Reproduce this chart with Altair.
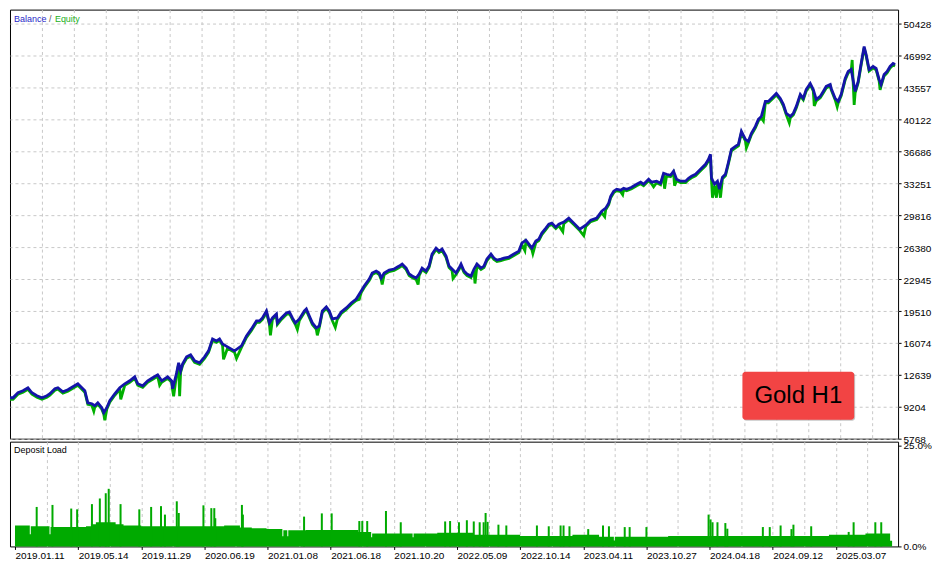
import altair as alt
import pandas as pd

# ---------------- data ----------------
# x = deal index along the MT5 report axis (32 deals per grid cell)
bal_trades = [0, 3, 8, 13, 18, 22, 27, 32, 37, 40, 45, 48, 53, 58, 63, 68, 72, 75, 78, 82,
              85, 88, 92, 94, 97, 100, 105, 110, 115, 120, 125, 128, 133, 138, 143, 148, 152, 158, 162, 163,
              167, 169, 171, 173, 177, 181, 185, 190, 195, 199, 203, 207, 210, 213, 218, 225, 232, 237, 242, 247,
              250, 253, 257, 260, 263, 267, 268, 272, 277, 280, 283, 286, 290, 295, 297, 300, 303, 307, 310, 313,
              317, 320, 323, 328, 332, 337, 342, 347, 352, 355, 360, 363, 367, 370, 372, 375, 380, 385, 390, 393,
              397, 400, 403, 407, 410, 413, 417, 420, 423, 427, 430, 433, 437, 440, 443, 447, 450, 452, 455, 458,
              462, 465, 468, 472, 475, 478, 482, 485, 488, 492, 495, 500, 505, 510, 513, 517, 520, 523, 527, 530,
              533, 537, 540, 543, 547, 550, 555, 560, 565, 571, 577, 582, 588, 593, 597, 600, 602, 605, 608, 612,
              615, 618, 623, 628, 632, 635, 640, 643, 648, 652, 655, 658, 662, 665, 668, 672, 677, 680, 683, 687,
              690, 693, 697, 700, 702, 703, 706, 709, 711, 714, 717, 720, 723, 727, 730, 733, 737, 740, 743, 747,
              750, 753, 757, 760, 765, 768, 772, 775, 778, 782, 785, 788, 792, 795, 798, 802, 805, 808, 812, 815,
              818, 822, 823, 827, 830, 833, 837, 840, 843, 847, 850, 853, 856, 858, 861, 865, 868, 871, 873, 876,
              879, 882, 885, 887]
bal_values = [10174, 10174, 10712, 10927, 11249, 10712, 10389, 10174, 10389, 10604, 11142, 11249, 10819, 11034, 11356, 11679, 11249, 10927, 9637, 9529,
              9315, 9637, 9100, 8562, 9100, 9852, 10604, 11249, 11679, 12001, 12431, 11679, 11464, 12001, 12324, 12646, 12001, 12431, 12001, 11142,
              12861, 13936, 13076, 13828, 14581, 14795, 14151, 13936, 14581, 15225, 16515, 16300, 16515, 15978, 15655, 15225, 15762, 16837, 17590, 18449,
              18449, 18772, 19524, 18235, 18772, 19202, 18235, 18772, 19309, 19417, 18772, 18235, 18664, 19524, 19739, 18987, 18235, 17697, 17912, 19524,
              19954, 19524, 18664, 18772, 19417, 19847, 20384, 20814, 21674, 22211, 22963, 23608, 23823, 23608, 23071, 23608, 23930, 24038, 24360, 24575,
              24145, 23501, 23286, 23071, 23501, 24145, 23823, 24360, 25650, 26295, 25972, 26187, 25435, 24360, 24038, 23608, 24145, 24575, 23823, 23501,
              23286, 24038, 24575, 24145, 24360, 25113, 25650, 25220, 25005, 25113, 25220, 25328, 25650, 25972, 26832, 27155, 26725, 26295, 27047, 27262,
              27907, 28444, 28874, 28982, 28552, 28874, 29089, 29519, 28982, 28337, 28767, 29304, 29519, 30271, 30594, 31131, 31883, 32421, 32636, 32528,
              32743, 32636, 32850, 33173, 33388, 33173, 33710, 33388, 33495, 33280, 34355, 34248, 34140, 34570, 33710, 33495, 33495, 33818, 34033, 34248,
              34570, 34892, 35322, 35860, 36397, 33818, 33173, 33495, 32636, 33925, 34248, 35537, 36934, 37257, 37472, 38869, 38009, 37794, 38654, 39406,
              40158, 40481, 42093, 42093, 42630, 42953, 42416, 41770, 40801, 40481, 40801, 41555, 42845, 42416, 43383, 44027, 43383, 42308, 42630, 43168,
              43705, 43920, 43490, 42416, 42093, 42845, 44565, 45317, 45532, 43168, 44242, 46177, 48004, 47144, 45532, 45854, 45640, 44457, 43920, 44995,
              45317, 45854, 46177, 46069]

# equity excursions away from balance (floating drawdowns / profits)
eq_dip_trades = [84, 95, 111, 150, 164, 170, 214, 227, 261, 288, 308, 326, 350, 373, 409, 444, 466,
                 516, 524, 554, 575, 596, 614, 645, 656, 666, 704, 708, 712, 738, 755, 781, 806,
                 829, 844, 846, 872]
eq_dip_values = [8885, 7917, 10174, 11679, 10497, 10500, 14473, 14580, 17052, 17697, 17052, 17912, 20921, 22533, 22533, 23178, 22641,
                 26187, 25865, 28229, 27799, 29841, 32206, 33065, 32850, 33173, 31883, 31883, 31883, 37257, 40158, 39943, 41770,
                 41663, 46714, 41877, 43490]

# deposit load: base level (step changes) and spikes, in %
load_base_trades = [0, 15, 16, 35, 36, 72, 77, 82, 102, 110, 128, 212, 228, 240, 255, 271, 272, 276, 277, 295,
                    348, 361, 362, 403, 404, 428, 465, 512, 565, 592, 607, 608, 662, 825, 862, 887, 889]
load_base_values = [5.2, 3.0, 5.0, 3.0, 4.8, 5.0, 5.5, 6.0, 5.5, 5.2, 5.0, 5.2, 4.7, 4.5, 4.3, 2.5, 4.0, 2.5, 4.0, 4.1,
                    3.6, 2.3, 3.2, 2.3, 3.2, 3.4, 2.9, 2.6, 2.9, 2.4, 1.5, 2.4, 2.6, 2.9, 3.2, 1.4, 1.4]
load_spike_trades = [22, 38, 57, 63, 78, 86, 92, 95, 107, 126, 138, 148, 152, 164, 166, 191, 199, 202, 203, 230,
                     231, 293, 311, 321, 349, 352, 357, 376, 391, 436, 441, 450, 458, 465, 471, 475, 477, 479, 490, 498,
                     529, 541, 553, 556, 562, 581, 596, 602, 618, 623, 640, 703, 705, 707, 712, 720, 722, 758, 765, 776,
                     787, 789, 807, 845, 850, 872, 878]
load_spike_values = [9.8, 10.3, 9.4, 9.2, 10.5, 11.9, 13.2, 14.3, 10.5, 9.2, 9.8, 10.0, 7.9, 11.2, 8.3, 10.2, 9.5, 9.5, 7.0, 10.3,
                     7.9, 7.4, 8.2, 8.2, 6.3, 6.3, 6.3, 8.8, 6.0, 6.2, 6.3, 6.0, 6.5, 6.2, 6.0, 6.0, 8.3, 6.1, 5.4, 5.2,
                     5.2, 5.0, 5.2, 5.2, 5.0, 4.3, 5.2, 5.0, 4.8, 4.8, 4.8, 7.9, 6.7, 6.0, 6.0, 5.8, 4.4, 4.8, 4.8, 5.2,
                     4.3, 5.4, 5.0, 3.6, 6.0, 6.0, 6.0]

y_ticks = [5768, 9204, 12639, 16074, 19510, 22945, 26380, 29816, 33251, 36686, 40122, 43557, 46992, 50428]
load_ticks = [0, 25]
date_labels = ["2019.01.11", "2019.05.14", "2019.11.29", "2020.06.19", "2021.01.08", "2021.06.18",
               "2021.10.20", "2022.05.09", "2022.10.14", "2023.04.11", "2023.10.27", "2024.04.18",
               "2024.09.12", "2025.03.07"]

# ---------------- layout / style ----------------
X_MAX = 890
GRID_STEP = 32
W, H_TOP, H_BOT = 890, 430, 105
FONT = "Liberation Sans"
BLUE = "#1414a8"
GREEN = "#00b000"
BAR_GREEN = "#00aa00"
GRID_COLOR = "#c8c8c8"

grid_vals = list(range(0, X_MAX, GRID_STEP))
labels_js = "[" + ",".join("'%s'" % d for d in date_labels) + "]"
label_expr = "datum.value %% %d == 0 ? %s[datum.value / %d] : ''" % (2 * GRID_STEP, labels_js, 2 * GRID_STEP)
# no dashed grid line over the solid left border
x_grid_color = {"condition": {"test": "datum.value == 0", "value": "transparent"}, "value": GRID_COLOR}

bal_df = pd.DataFrame({"trade": bal_trades, "value": bal_values})
eq_df = pd.concat([bal_df, pd.DataFrame({"trade": eq_dip_trades, "value": eq_dip_values})])
eq_df = eq_df.sort_values("trade").reset_index(drop=True)
base_df = pd.DataFrame({"trade": load_base_trades, "load": load_base_values})
spike_df = pd.DataFrame({"trade": load_spike_trades, "load": load_spike_values})

x_scale = alt.Scale(domain=[0, X_MAX], nice=False, zero=False)
x_top = alt.X("trade:Q", scale=x_scale,
              axis=alt.Axis(values=grid_vals, labels=False, ticks=False, domain=False, grid=True,
                            title=None, gridColor=x_grid_color, gridDash=[3, 3],
                            minExtent=0, maxExtent=0, offset=0))
y_top = alt.Y("value:Q", scale=alt.Scale(domain=[5768, 51980], nice=False, zero=False),
              axis=alt.Axis(orient="right", values=y_ticks, format="d", title=None, grid=True,
                            gridColor=GRID_COLOR, gridDash=[3, 3], tickSize=3, labelPadding=2,
                            domain=False, labelOffset=1))

eq_line = alt.Chart(eq_df).mark_line(color=GREEN, strokeWidth=2.8, yOffset=1.5).encode(x=x_top, y=y_top)
bal_line = alt.Chart(bal_df).mark_line(color=BLUE, strokeWidth=2.8).encode(x=x_top, y=y_top)


def label(text, x, y, color, size=9, align="left", font=FONT):
    return alt.Chart(pd.DataFrame({"t": [text]})).mark_text(
        align=align, baseline="middle", font=font, fontSize=size, color=color
    ).encode(x=alt.value(x), y=alt.value(y), text="t:N")


leg1 = label("Balance", 4, 9, "#2828c8")
leg2 = label("/", 39, 9, "#555555")
leg3 = label("Equity", 45, 9, "#22b022")

box_shadow = alt.Chart(pd.DataFrame({"t": ["Gold H1"]})).mark_rect(
    color="#a0a0a0", cornerRadius=3, opacity=0.6
).encode(x=alt.value(735), x2=alt.value(847), y=alt.value(364), y2=alt.value(412))
box = alt.Chart(pd.DataFrame({"t": ["Gold H1"]})).mark_rect(
    color="#f24444", cornerRadius=3
).encode(x=alt.value(734), x2=alt.value(846), y=alt.value(363), y2=alt.value(411))
box_text = label("Gold H1", 790, 387, "#000000", size=24, align="center")

top = alt.layer(eq_line, bal_line, leg1, leg2, leg3, box_shadow, box, box_text).properties(
    width=W, height=H_TOP)

tick_color = {"condition": {"test": "datum.value %% %d == 0" % (2 * GRID_STEP), "value": "black"},
              "value": "transparent"}
x_bot = alt.X("trade:Q", scale=x_scale,
              axis=alt.Axis(values=grid_vals, labelExpr=label_expr, labelAlign="left", labelBaseline="top",
                            labelPadding=1, tickSize=3, tickColor=tick_color, domain=False, grid=True,
                            gridColor=x_grid_color, gridDash=[3, 3], title=None, labelOverlap=False,
                            labelFlush=False, minExtent=0))
y_bot = alt.Y("load:Q", scale=alt.Scale(domain=[0, 26], nice=False),
              axis=alt.Axis(orient="right", values=load_ticks, labelExpr="format(datum.value, '.1f') + '%'",
                            title=None, grid=False, tickSize=3, labelPadding=2, domain=False))

base_area = alt.Chart(base_df).mark_area(color=BAR_GREEN, interpolate="step-after").encode(x=x_bot, y=y_bot)
spikes = alt.Chart(spike_df).mark_bar(color=BAR_GREEN, width=2).encode(x=x_bot, y=y_bot)
dep_text = label("Deposit Load", 4, 8, "#000000")

bottom = alt.layer(base_area, spikes, dep_text).properties(width=W, height=H_BOT)

chart = alt.vconcat(top, bottom, spacing=3, bounds="flush").resolve_scale(
    x="independent", y="independent"
).configure_view(
    stroke="black", strokeWidth=1
).configure_axis(
    labelFont=FONT, labelFontSize=10, labelColor="#000000", tickColor="#000000"
).properties(background="white", padding={"left": -5, "top": 0, "right": 0, "bottom": 0})

chart.save("out.html", embed_options={"renderer": "svg", "actions": False})
